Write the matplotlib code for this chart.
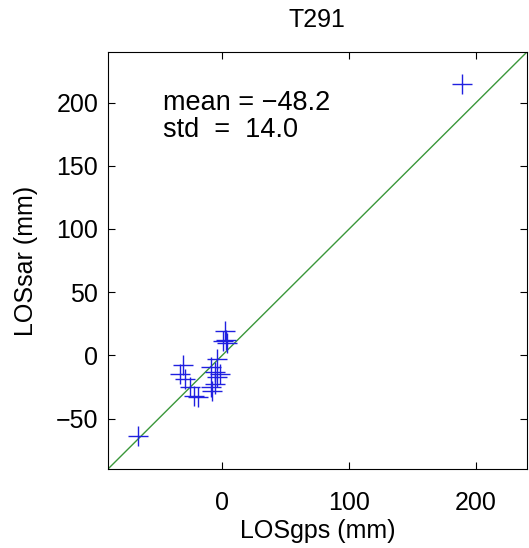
import numpy as np
import matplotlib
matplotlib.use('Agg')
import matplotlib.pyplot as plt

plt.rcParams['font.family'] = ['Liberation Sans', 'DejaVu Sans']

# LOS displacement, GPS vs SAR (mm)
los_gps = [189, -66, 2, 3, 4, 1, -31, -33, -29, -25, -22, -19,
           -9, -4, -6, -4, -6, -9, -8, -2]
los_sar = [215, -64, 19, 12, 10, 11, -8, -15, -19, -25, -32, -33,
           -9, -3, -13, -17, -23, -25, -28, -15]
mean_txt = 'mean = \u221248.2'
std_txt = 'std  =  14.0'
lims = [-90, 240]

fig = plt.figure(figsize=(5.29, 5.48), dpi=100)
ax = fig.add_axes([0.204, 0.144, 0.792, 0.761])

ax.plot(lims, lims, color='#3a973a', linewidth=1.0)
ax.plot(los_gps, los_sar, '+', color='#2020e0', markersize=14, markeredgewidth=1.0)

ax.set_xlim(lims)
ax.set_ylim(lims)
ax.set_xticks([0, 100, 200])
ax.set_yticks([-50, 0, 50, 100, 150, 200])
ax.tick_params(direction='in', top=True, right=True, length=5, labelsize=18)
ax.tick_params(axis='x', pad=16)
ax.tick_params(axis='y', pad=7)
ax.set_yticklabels(['\u221250', '0', '50', '100', '150', '200'])
for s in ax.spines.values():
    s.set_linewidth(0.8)

ax.set_xlabel('LOSgps (mm)', fontsize=18, labelpad=3)
ax.set_ylabel('LOSsar (mm)', fontsize=18, labelpad=13)
ax.set_title('T291', fontsize=18, pad=18)

ax.text(-47, 200, mean_txt, fontsize=19.5, va='center', ha='left')
ax.text(-47, 178, std_txt, fontsize=19.5, va='center', ha='left')

fig.savefig('out.png', dpi=100)
